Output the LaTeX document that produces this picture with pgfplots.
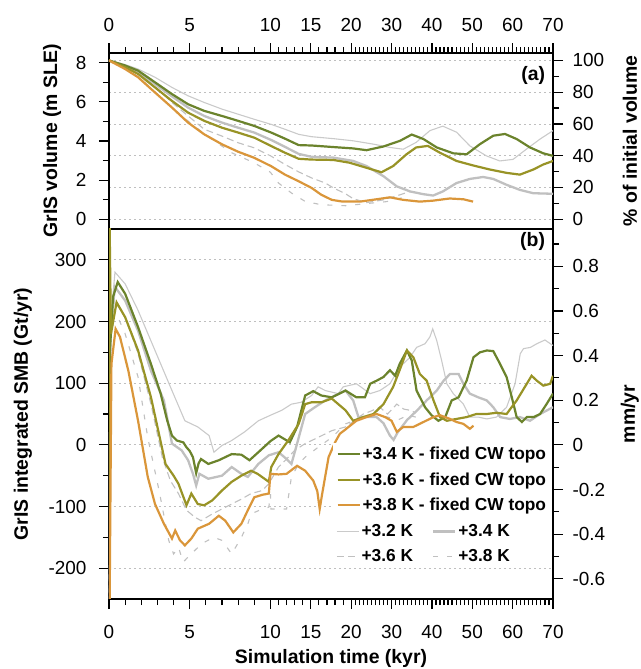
\documentclass[border=0pt]{standalone}
\usepackage{fontspec}
\setmainfont{Liberation Sans}
\usepackage{pgfplots}
\pgfplotsset{compat=1.18}

\definecolor{cA}{RGB}{107,131,44}
\definecolor{cB}{RGB}{152,147,38}
\definecolor{cC}{RGB}{218,150,58}
\definecolor{gL}{RGB}{202,202,202}
\definecolor{gT}{RGB}{192,192,192}

\pgfplotsset{
 base/.style={
  scale only axis, width=444bp,
  xmin=0, xmax=11,
  x filter/.expression={ifthenelse(x<10,0.4*x,ifthenelse(x<20,4+0.2*(x-10),6+0.1*(x-20)))},
  tick align=outside,
  major tick length=10bp, minor tick length=6bp,
  every tick/.style={black, line width=1.2bp},
  axis line style={line width=1.6bp},
  tick label style={font=\fontsize{19}{22}\selectfont},
  label style={font=\bfseries\fontsize{19.5}{23}\selectfont},
  /pgf/number format/assume math mode=true,
  legend image code/.code={\draw[##1] (0bp,0bp) -- (22bp,0bp);},
 },
 xt/.style={
  xtick={0,2,4,5,6,7,8,9,10,11},
  xticklabels={0,5,10,15,20,30,40,50,60,70},
  minor xtick={0.4,0.8,1.2,1.6,2.4,2.8,3.2,3.6,4.2,4.4,4.6,4.8,5.2,5.4,5.6,5.8,
   6.1,6.2,6.3,6.4,6.5,6.6,6.7,6.8,6.9,7.1,7.2,7.3,7.4,7.5,7.6,7.7,7.8,7.9,
   8.1,8.2,8.3,8.4,8.5,8.6,8.7,8.8,8.9,9.1,9.2,9.3,9.4,9.5,9.6,9.7,9.8,9.9,
   10.1,10.2,10.3,10.4,10.5,10.6,10.7,10.8,10.9},
 },
 gridst/.style={ymajorgrids, grid style={dash pattern=on 2bp off 3bp, gray!50, line width=0.7bp}},
 fx/.style={line width=2.2bp},
 g32/.style={gL, line width=1.1bp},
 g34/.style={gT, line width=2.3bp},
 g36/.style={gT, line width=1.1bp, dash pattern=on 7bp off 4bp},
 g38/.style={gT, line width=1.1bp, dash pattern=on 5bp off 9bp},
 legst/.style={draw=none, fill=white, anchor=north west,
    font=\bfseries\fontsize{17.4}{20}\selectfont, row sep=7.5bp},
}

\begin{document}
\begin{tikzpicture}

%% ---------- panel (a): right axis (percent) with grid ----------
\begin{axis}[base, at={(0,370bp)}, anchor=south west, height=176bp,
  ymin=-6.158, ymax=104.68, axis y line*=right, axis x line=none,
  ytick={0,20,40,60,80,100}, minor ytick={10,30,50,70,90},
  yticklabels={0,20,40,60,80,100},
  yticklabel style={xshift=6bp},
  gridst,
  ylabel={\% of initial volume},
  ylabel style={at={(axis description cs:1.173,0.5)}, anchor=center}]
\end{axis}

%% ---------- panel (a): left axis (m SLE) ----------
\begin{axis}[base, at={(0,370bp)}, anchor=south west, height=176bp,
  ymin=-0.5, ymax=8.5, ytick={0,2,4,6,8}, minor ytick={1,3,5,7},
  yticklabels={0,2,4,6,8},
  yticklabel style={xshift=-9bp},
  ytick pos=left, xt, xtick pos=right, xticklabel pos=right,
  xticklabel style={yshift=8bp},
  ylabel={GrIS volume (m SLE)},
  ylabel style={at={(axis description cs:-0.128,0.5)}, anchor=center}]
% +3.2 K
\addplot[g32] coordinates {(0,8.12)(1,7.91)(1.8,7.68)(2.85,7.26)(3.9,6.74)(4.9,6.31)(5.9,5.97)(7,5.63)(8,5.37)(9,5.11)(10.1,4.85)(11.8,4.6)(13.5,4.34)(15.1,4.22)(17.8,4.12)(20.5,4.01)(25.5,3.84)(29.6,3.67)(32.9,3.58)(36.1,3.93)(39.5,4.53)(42.7,4.76)(46.1,4.45)(49.4,3.75)(53.5,3.24)(56.8,2.98)(60.1,3.06)(63.4,3.58)(66.8,4.1)(70,4.53)};
% +3.4 K
\addplot[g34] coordinates {(0,8.12)(1,7.82)(1.8,7.55)(2.85,6.91)(3.9,6.28)(4.9,5.71)(5.9,5.28)(7,4.94)(8,4.68)(9,4.43)(10.1,4.05)(11.8,3.7)(13.5,3.34)(15.1,3.19)(17.8,3.15)(20.5,2.98)(23.8,2.72)(28,2.2)(31.3,1.68)(34.6,1.42)(37.9,1.28)(40.3,1.21)(42.7,1.42)(46.1,1.85)(49.4,2.06)(52.7,2.16)(55.2,2.06)(58.5,1.76)(61.8,1.5)(65.1,1.33)(70,1.3)};
% +3.6 K
\addplot[g36] coordinates {(0,8.12)(1,7.75)(1.8,7.48)(2.85,6.79)(3.9,5.97)(4.9,5.28)(5.9,4.6)(7,4.25)(8,3.91)(9,3.65)(10.1,3.22)(11.8,2.8)(13.5,2.42)(15.1,2.11)(16.8,1.85)(17.8,1.6)(19.3,1.3)(20.5,1.05)(23.8,0.85)(28,0.99)(32.1,1.25)(34.6,1.42)};
% +3.8 K
\addplot[g38] coordinates {(0,8.12)(1,7.7)(1.8,7.3)(2.85,6.5)(3.9,5.71)(4.9,5.02)(6,4.3)(7.6,3.4)(9,2.88)(10,2.4)(11,1.85)(12.6,1.34)(14.3,0.91)(16.3,0.74)(19.3,0.69)(23.8,0.8)(28.8,0.9)(32.1,1.07)(33.7,1.16)};
% fixed CW topo
\addplot[cA, fx] coordinates {(0,8.12)(1,7.86)(1.8,7.6)(2.85,7.0)(3.9,6.4)(4.9,5.88)(5.9,5.54)(7,5.28)(8,5.03)(9,4.77)(10.1,4.43)(11.8,4.12)(13.5,3.79)(15.1,3.77)(17.8,3.69)(20.5,3.62)(23.8,3.53)(28,3.72)(32.1,4.01)(35,4.33)(37.9,4.1)(41.2,3.67)(45.3,3.37)(48.6,3.32)(51.9,3.84)(55.2,4.27)(58.1,4.36)(61,4.1)(64.3,3.67)(67.6,3.37)(70,3.24)};
\addplot[cB, fx] coordinates {(0,8.12)(1,7.77)(1.8,7.43)(2.85,6.74)(3.9,6.05)(4.9,5.45)(5.9,5.03)(7,4.68)(8,4.43)(9,4.17)(10.1,3.74)(11.8,3.4)(13.5,3.09)(15.1,3.05)(17.8,3.03)(19.8,2.89)(23.8,2.63)(27.5,2.4)(30.4,2.72)(33.7,3.32)(36.1,3.67)(39,3.75)(41.9,3.41)(46.1,2.98)(50.2,2.75)(54.4,2.54)(58.5,2.37)(61.8,2.28)(65.1,2.54)(67.6,2.8)(70,2.98)};
\addplot[cC, fx] coordinates {(0,8.12)(1,7.68)(1.8,7.26)(2.85,6.48)(3.9,5.71)(4.9,4.94)(5.9,4.34)(7,3.83)(8,3.45)(9,3.14)(10.1,2.71)(11.8,2.28)(13.5,1.94)(15.1,1.6)(16.3,1.25)(17.6,0.99)(18.8,0.91)(22.2,0.9)(26.3,1.02)(29.6,1.12)(32.9,0.99)(37,0.9)(40.3,0.95)(44.4,1.06)(47.8,1.02)(50.2,0.9)};
\node[anchor=east, font=\bfseries\fontsize{19.5}{23}\selectfont] at (rel axis cs:0.99,0.875) {(a)};
\end{axis}

%% ---------- panel (b): right axis (mm/yr) ----------
\begin{axis}[base, at={(0,0)}, anchor=south west, height=370bp,
  ymin=-0.6906, ymax=0.9669, axis y line*=right, axis x line=none,
  ytick={-0.6,-0.4,-0.2,0,0.2,0.4,0.6,0.8},
  yticklabels={-0.6,-0.4,-0.2,0,0.2,0.4,0.6,0.8},
  minor ytick={-0.5,-0.3,-0.1,0.1,0.3,0.5,0.7,0.9},
  yticklabel style={xshift=6bp},
  ylabel={mm/yr},
  ylabel style={at={(axis description cs:1.173,0.5)}, anchor=center}]
\end{axis}

%% ---------- panel (b): left axis (Gt/yr), grey runs ----------
\begin{axis}[base, at={(0,0)}, anchor=south west, height=370bp,
  ymin=-250, ymax=350,
  ytick={-200,-100,0,100,200,300}, yticklabels={-200,-100,0,100,200,300},
  minor ytick={-150,-50,50,150,250},
  yticklabel style={xshift=-9bp},
  ytick pos=left, xt, xtick pos=left,
  xticklabel style={yshift=-13bp},
  gridst,
  ylabel={GrIS integrated SMB (Gt/yr)},
  ylabel style={at={(axis description cs:-0.194,0.5)}, anchor=center},
  xlabel={Simulation time (kyr)},
  xlabel style={at={(axis description cs:0.5,-0.162)}, anchor=center},
  legend columns=2,
  legend style={legst, at={(0.505,0.212)},
    /tikz/every even column/.append style={column sep=17bp}},
  legend cell align=left]
\addplot[g32] coordinates {(0,-400)(0.1,200)(0.37,280)(1,261)(1.8,218)(2.85,153)(3.9,88)(4.7,39)(5.5,29)(6.2,15)(6.5,-12)(7,-1)(7.6,7)(8.4,21)(9.25,39)(10,48)(11.4,56)(12.6,66)(13.8,69)(15.1,80)(15.9,94)(16.8,88)(18.4,83)(19,94)(21.3,99)(24.7,83)(27.1,88)(29.6,99)(32,126)(34.6,142)(36.2,158)(38.3,164)(39.5,175)(40.2,188)(41.2,169)(42.4,137)(43.7,99)(45.3,83)(47.8,66)(49.4,45)(51.5,45)(53.6,42)(56,45)(58.5,61)(60.6,99)(61.9,148)(62.7,156)(64.4,158)(66,164)(68,170)(70,161)};
\addlegendentry{+3.2 K}
\addplot[g34] coordinates {(0,-400)(0.1,190)(0.37,256)(1,234)(1.8,185)(2.6,120)(3.4,72)(3.9,2)(4.5,-9)(4.9,-25)(5.2,-47)(5.4,-66)(5.6,-47)(6.15,-55)(7,-50)(7.6,-36)(8.2,-47)(8.6,-52)(9.25,-31)(9.9,-17)(11,-12)(12,-23)(12.6,-31)(13.3,2)(14.3,50)(15.5,61)(16.8,72)(18,80)(19.3,88)(20.5,72)(21.8,45)(23.8,45)(26.3,45)(28,35)(29.6,15)(30.5,8)(31.5,20)(33.8,40)(36.2,55)(38.7,72)(41.2,88)(42.9,104)(44.5,115)(46.6,115)(47.8,99)(49.4,83)(51.5,77)(53.6,72)(55.2,61)(56.9,45)(59.3,42)(61.8,45)(64.3,39)(66.8,50)(70,61)};
\addlegendentry{+3.4 K}
\addplot[g36] coordinates {(0,-400)(0.1,180)(0.33,234)(1,207)(1.8,148)(2.6,66)(3.3,-20)(3.8,-58)(4.3,-79)(4.8,-106)(5.3,-117)(5.7,-123)(6.4,-112)(7,-104)(7.6,-96)(8.2,-88)(8.8,-79)(9.5,-74)(9.9,-63)(11,-36)(12,-23)(13,-9)(14.3,2)(15.9,12)(17.6,23)(19.3,29)(21,40)(23,50)(25,55)(27.1,61)(29,50)(31.3,66)(33,58)(34.6,56)(36,52)};
\addlegendentry{+3.6 K}
\addplot[g38] coordinates {(0,-400)(0.1,170)(0.37,218)(1,180)(1.8,110)(2.4,12)(3.1,-74)(3.7,-155)(4,-177)(4.3,-166)(4.6,-190)(4.9,-182)(5.4,-169)(5.9,-158)(6.5,-150)(7,-155)(7.6,-177)(8.2,-150)(8.6,-128)(8.8,-112)(9.5,-104)(9.9,-101)(10,-80)(10.05,-104)(11,-104)(12,-104)(12.6,-52)(13.5,-31)(14.3,-20)(15.9,-4)(17.6,12)(19.3,34)(21,40)(23,45)(26,50)(29,45)(31.5,40)(34,48)(36,45)};
\addlegendentry{+3.8 K}
\end{axis}

%% ---------- panel (b): overlay, fixed CW topo runs ----------
\begin{axis}[base, at={(0,0)}, anchor=south west, height=370bp,
  ymin=-250, ymax=350, hide axis,
  legend style={legst, at={(0.505,0.422)}},
  legend cell align=left]
\addplot[cA, fx] coordinates {(0,-400)(0.05,150)(0.25,240)(0.54,264)(1,245)(1.8,191)(2.6,131)(3.2,83)(3.6,40)(3.9,15)(4.2,7)(4.6,4)(4.8,-4)(5.0,-10)(5.2,-20)(5.4,-46)(5.55,-30)(5.7,-23)(6.15,-31)(6.8,-25)(7.6,-15)(8.2,-16)(8.7,-25)(9.25,-12)(10,6)(11,15)(12.4,4)(13.3,29)(14.3,80)(15.3,87)(16.3,80)(17.6,77)(19.3,88)(21.3,77)(23.4,77)(24.7,99)(26.3,104)(28,110)(29.6,121)(30.9,112)(32,131)(33.8,153)(35,137)(36.2,88)(38.3,61)(39.9,48)(41.6,39)(43.3,45)(44.9,72)(46.6,77)(48.6,104)(50.3,142)(51.9,150)(53.6,153)(55.2,152)(56.9,131)(58.5,110)(59.8,77)(61,45)(62.3,37)(63.5,45)(65.2,45)(66.8,50)(68.4,66)(70,83)};
\addlegendentry{+3.4 K - fixed CW topo}
\addplot[cB, fx] coordinates {(0,-400)(0.02,400)(0.12,180)(0.47,231)(1,207)(1.8,153)(2.6,77)(3.5,-31)(4,-50)(4.3,-63)(4.8,-98)(5.1,-79)(5.5,-96)(5.9,-98)(6.4,-90)(7,-74)(7.6,-60)(8.2,-50)(8.8,-42)(9.2,-47)(9.9,-60)(10.1,-36)(11,-15)(12.2,7)(13.5,34)(14.3,66)(15.1,69)(16.3,69)(17.6,75)(18.4,66)(19.3,56)(20.5,39)(23,45)(25.5,50)(28,66)(30.4,94)(32,121)(33.8,153)(35.4,142)(37,115)(38.7,104)(40.4,72)(42,45)(43.7,39)(46.1,42)(48.6,45)(51,50)(53.6,50)(56,52)(58.5,50)(61,72)(63.5,99)(64.7,112)(66,104)(67.6,96)(69.3,99)(70,112)};
\addlegendentry{+3.6 K - fixed CW topo}
\addplot[cC, fx] coordinates {(0,-400)(0.15,131)(0.41,188)(0.68,175)(1.2,120)(1.8,39)(2.4,-52)(2.85,-96)(3.4,-128)(3.9,-152)(4.1,-139)(4.4,-155)(4.7,-163)(5.1,-152)(5.5,-136)(6.2,-128)(6.8,-115)(7.2,-123)(7.7,-142)(8.2,-128)(8.6,-106)(9,-85)(9.5,-81)(9.9,-79)(10,-47)(11,-48)(12,-47)(13.3,-34)(14.3,-42)(15.3,-58)(15.8,-75)(16.1,-104)(16.4,-80)(16.8,-50)(17.2,-20)(18,4)(18.6,18)(19.3,25)(20.5,35)(21.3,39)(23.8,45)(26.3,50)(28.4,45)(30,39)(31.3,21)(32.9,29)(35.4,29)(37.9,37)(40.4,45)(42,48)(44.5,42)(46.1,37)(47.8,34)(49.4,26)(50.3,31)};
\addlegendentry{+3.8 K - fixed CW topo}
\node[anchor=east, font=\bfseries\fontsize{19.5}{23}\selectfont] at (rel axis cs:0.99,0.9676) {(b)};
\end{axis}

\pgfresetboundingbox
\path[use as bounding box] (-109bp,-70bp) rectangle (532bp,599bp);
\end{tikzpicture}
\end{document}
